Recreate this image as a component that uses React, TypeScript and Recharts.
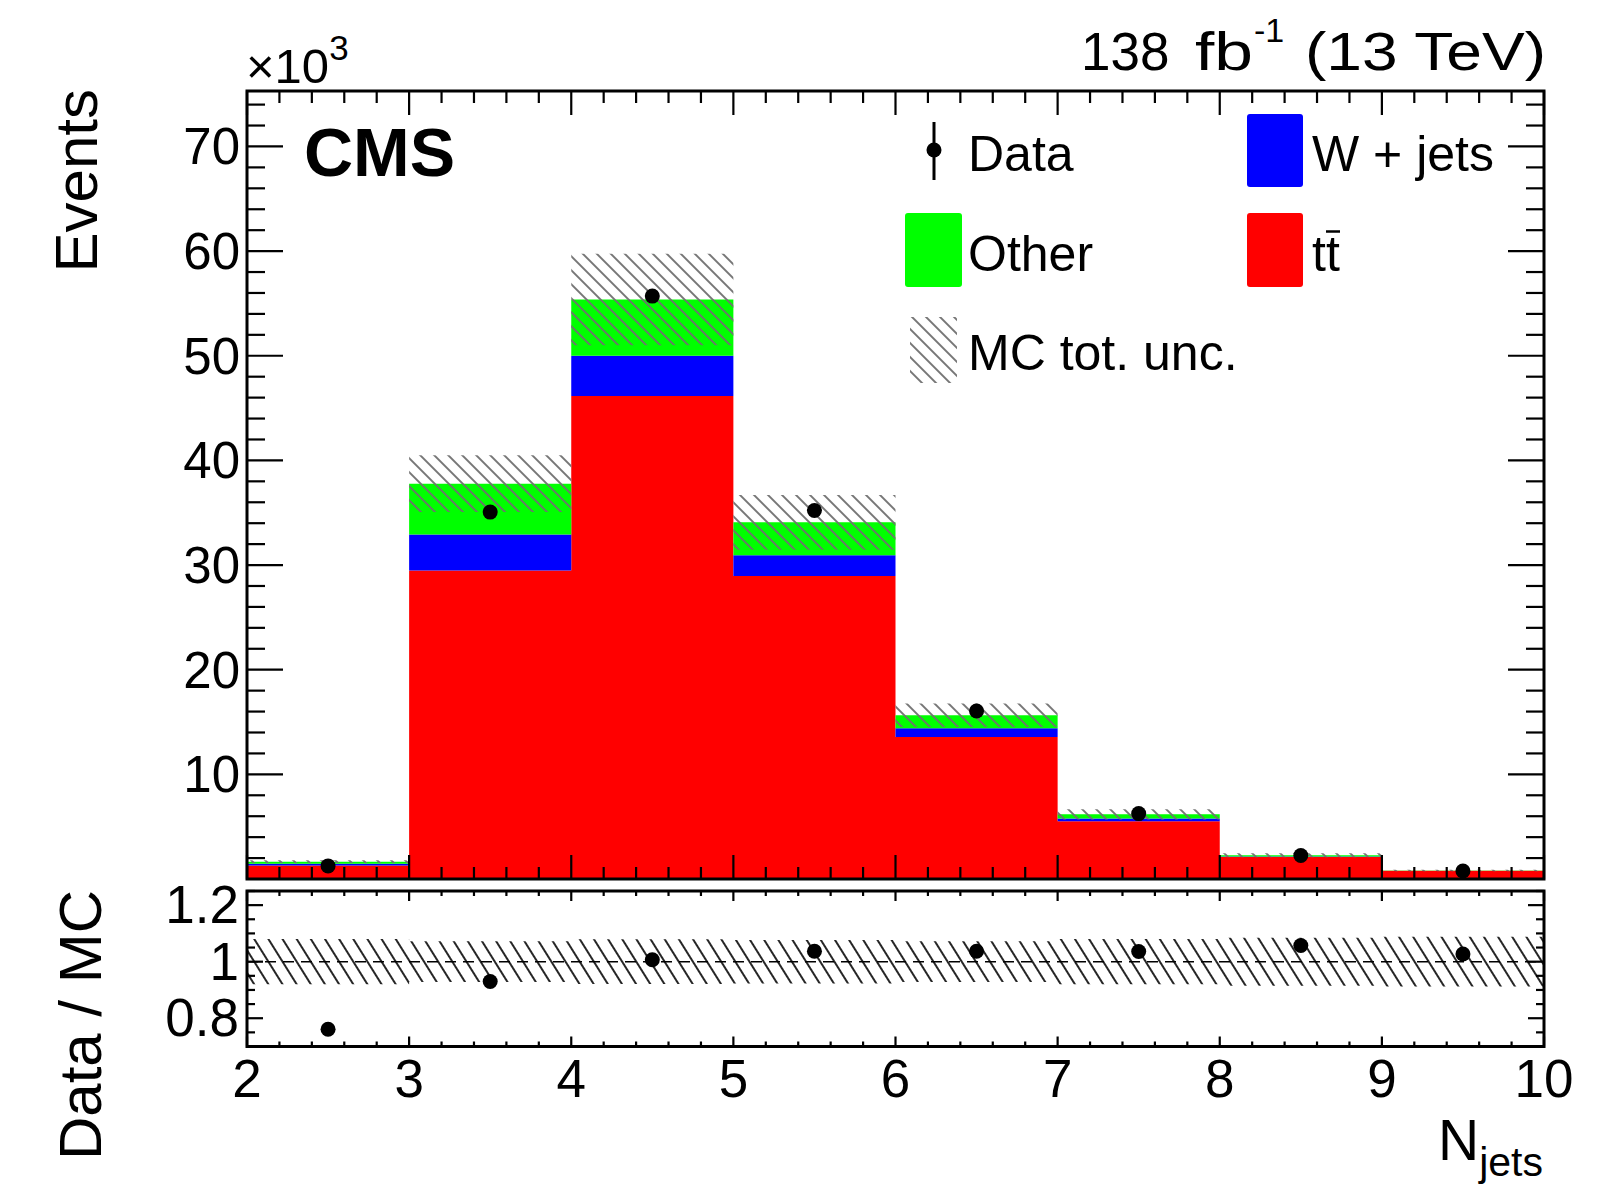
import { Area, ComposedChart, ReferenceArea, ReferenceLine, Scatter, XAxis, YAxis } from "recharts";

// N_jets histogram, values in units of 10^3 events
const BIN_EDGES = [2, 3, 4, 5, 6, 7, 8, 9, 10];
const TTBAR = [1.3, 29.49, 46.15, 28.95, 13.57, 5.51, 2.1, 0.78];
const WJETS = [0.15, 3.44, 3.85, 1.98, 0.83, 0.26, 0.06, 0.02];
const OTHER = [0.2, 4.85, 5.38, 3.15, 1.24, 0.41, 0.1, 0.02];
const DATA = [1.25, 35.06, 55.7, 35.22, 16.05, 6.25, 2.24, 0.77];
const MC_UNC = [0.08, 0.072, 0.079, 0.077, 0.072, 0.08, 0.085, 0.088]; // relative
const RATIO = [0.761, 0.93, 1.007, 1.037, 1.037, 1.036, 1.057, 1.027];

const X_LABELS = [2, 3, 4, 5, 6, 7, 8, 9, 10];
const Y_LABELS = [10, 20, 30, 40, 50, 60, 70];
const RATIO_LABELS = [0.8, 1, 1.2];

const W = 1620;
const H = 1188;
const PL = 247;
const PR = 1544;
const MAIN_TOP = 91;
const MAIN_BOT = 879;
const R_TOP = 891;
const R_BOT = 1046.5;
const Y_MAX = 75.3;
const R_MIN = 0.7;
const R_MAX = 1.25;
const FONT = "'Liberation Sans', Arial, Helvetica, sans-serif";

const last = TTBAR.length - 1;
const stepRows = BIN_EDGES.map((x, i) => {
  const b = Math.min(i, last);
  const tot = TTBAR[b] + WJETS[b] + OTHER[b];
  return {
    x,
    ttbar: TTBAR[b],
    wjets: WJETS[b],
    other: OTHER[b],
    band: [tot * (1 - MC_UNC[b]), tot * (1 + MC_UNC[b])],
    rband: [1 - MC_UNC[b], 1 + MC_UNC[b]],
  };
});
const dataPoints = DATA.map((y, i) => ({ x: BIN_EDGES[i] + 0.5, y }));
const ratioPoints = RATIO.map((y, i) => ({ x: BIN_EDGES[i] + 0.5, y }));

const xTicks: number[] = [];
for (let i = 0; i <= 40; i++) xTicks.push(Math.round((2 + i * 0.2) * 10) / 10);
const yTicks: number[] = [];
for (let v = 2; v <= 74; v += 2) yTicks.push(v);
const rTicks: number[] = [];
for (let i = 0; i <= 11; i++) rTicks.push(Math.round((R_MIN + i * 0.05) * 100) / 100);

const isInt = (v: number) => Math.abs(v - Math.round(v)) < 1e-6;

const MainXTick = ({ x, payload }: any) => {
  const len = isInt(payload.value) ? 24 : 12;
  return (
    <g>
      <line x1={x} x2={x} y1={MAIN_BOT} y2={MAIN_BOT - len} stroke="#000" strokeWidth={2.2} />
      <line x1={x} x2={x} y1={MAIN_TOP} y2={MAIN_TOP + len} stroke="#000" strokeWidth={2.2} />
    </g>
  );
};

const MainYTick = ({ y, payload }: any) => {
  const v = payload.value;
  const major = Y_LABELS.includes(v);
  const len = major ? 36 : 18;
  return (
    <g>
      <line x1={PL} x2={PL + len} y1={y} y2={y} stroke="#000" strokeWidth={2.2} />
      <line x1={PR - len} x2={PR} y1={y} y2={y} stroke="#000" strokeWidth={2.2} />
      {major && (
        <text x={240} y={y + 18} textAnchor="end" fontSize={51} fontFamily={FONT} fill="#000">
          {v}
        </text>
      )}
    </g>
  );
};

const RatioXTick = ({ x, payload }: any) => {
  const v = payload.value;
  const major = isInt(v);
  const len = major ? 10 : 5;
  return (
    <g>
      <line x1={x} x2={x} y1={R_BOT} y2={R_BOT - len} stroke="#000" strokeWidth={2.2} />
      <line x1={x} x2={x} y1={R_TOP} y2={R_TOP + len} stroke="#000" strokeWidth={2.2} />
      {major && X_LABELS.includes(v) && (
        <text x={x} y={1097} textAnchor="middle" fontSize={53} fontFamily={FONT} fill="#000">
          {v}
        </text>
      )}
    </g>
  );
};

const RatioYTick = ({ y, payload }: any) => {
  const v = payload.value;
  const label = RATIO_LABELS.find((r) => Math.abs(r - v) < 1e-6);
  const len = label !== undefined ? 16 : 8;
  return (
    <g>
      <line x1={PL} x2={PL + len} y1={y} y2={y} stroke="#000" strokeWidth={2.2} />
      <line x1={PR - len} x2={PR} y1={y} y2={y} stroke="#000" strokeWidth={2.2} />
      {label !== undefined && (
        <text x={239} y={y + 18} textAnchor="end" fontSize={53} fontFamily={FONT} fill="#000">
          {label}
        </text>
      )}
    </g>
  );
};

const dot = (p: any) => <circle cx={p.cx} cy={p.cy} r={7.5} fill="#000" />;

const Overlay = () => (
  <svg width={W} height={H} style={{ position: "absolute", left: 0, top: 0, pointerEvents: "none" }}>
    <defs>
      <pattern id="hatchMain" patternUnits="userSpaceOnUse" width={9.9} height={9.9} patternTransform="rotate(-45)">
        <line x1={4.95} y1={0} x2={4.95} y2={9.9} stroke="#707070" strokeWidth={1.9} />
      </pattern>
      <pattern id="hatchRatio" patternUnits="userSpaceOnUse" width={12} height={12} patternTransform="rotate(-32)">
        <line x1={6} y1={0} x2={6} y2={12} stroke="#000" strokeWidth={1.7} />
      </pattern>
    </defs>
    <g fontFamily={FONT} fill="#000">
      {/* lumi / energy */}
      <text x={1081} y={70} fontSize={53}>138</text>
      <text x={1195} y={70} fontSize={53} textLength={58} lengthAdjust="spacingAndGlyphs">fb</text>
      <text x={1254} y={42} fontSize={34}>-1</text>
      <text x={1305} y={70} fontSize={53} textLength={241} lengthAdjust="spacingAndGlyphs">(13 TeV)</text>
      {/* exponent */}
      <text x={246} y={83} fontSize={49}>
        ×10<tspan dy={-23} fontSize={35}>3</tspan>
      </text>
      <text x={304} y={176} fontSize={68} fontWeight="bold">CMS</text>
      {/* legend */}
      <line x1={934} x2={934} y1={122} y2={180} stroke="#000" strokeWidth={3} />
      <circle cx={934} cy={150} r={7.5} fill="#000" />
      <text x={968} y={171} fontSize={50}>Data</text>
      <rect x={1247} y={114} width={56} height={73} rx={3} fill="#0000ff" />
      <text x={1312} y={171} fontSize={50}>W + jets</text>
      <rect x={905} y={213} width={57} height={74} rx={3} fill="#00ff00" />
      <text x={968} y={271} fontSize={50}>Other</text>
      <rect x={1247} y={213} width={56} height={74} rx={3} fill="#ff0000" />
      <text x={1312} y={271} fontSize={50}>tt</text>
      <line x1={1326} x2={1340} y1={231.5} y2={231.5} stroke="#000" strokeWidth={2.5} />
      <rect x={910} y={317} width={47} height={66} fill="url(#hatchMain)" />
      <text x={968} y={370} fontSize={50}>MC tot. unc.</text>
      {/* axis titles */}
      <text x={97} y={89} fontSize={60} textAnchor="end" transform="rotate(-90 97 89)">Events</text>
      <text x={101} y={890} fontSize={60} textAnchor="end" transform="rotate(-90 101 890)">Data / MC</text>
      <text x={1543} y={1160} fontSize={57} textAnchor="end">
        N<tspan dy={16} fontSize={41}>jets</tspan>
      </text>
    </g>
  </svg>
);

export default function App() {
  return (
    <div style={{ position: "absolute", left: 0, top: 0, width: W, height: H, background: "#fff", fontFamily: FONT }}>
      <Overlay />
      <div style={{ position: "absolute", left: 0, top: 0 }}>
        <ComposedChart width={W} height={H} data={stepRows} margin={{ top: MAIN_TOP, right: W - PR, bottom: 0, left: 0 }}>
          <Area type="stepAfter" dataKey="ttbar" stackId="mc" fill="#ff0000" fillOpacity={1} stroke="none" isAnimationActive={false} />
          <Area type="stepAfter" dataKey="wjets" stackId="mc" fill="#0000ff" fillOpacity={1} stroke="none" isAnimationActive={false} />
          <Area type="stepAfter" dataKey="other" stackId="mc" fill="#00ff00" fillOpacity={1} stroke="none" isAnimationActive={false} />
          <Scatter data={dataPoints} dataKey="y" shape={dot} isAnimationActive={false} />
          <Area type="stepAfter" dataKey="band" fill="url(#hatchMain)" fillOpacity={1} stroke="none" isAnimationActive={false} />
          <XAxis type="number" dataKey="x" domain={[2, 10]} ticks={xTicks} interval={0} allowDataOverflow
            height={H - MAIN_BOT} tick={MainXTick} tickLine={false} axisLine={false} />
          <YAxis type="number" domain={[0, Y_MAX]} ticks={yTicks} interval={0} allowDataOverflow
            width={PL} tick={MainYTick} tickLine={false} axisLine={false} />
          <ReferenceArea x1={2} x2={10} y1={0} y2={Y_MAX} fill="none" fillOpacity={0} stroke="#000" strokeWidth={3} />
        </ComposedChart>
      </div>
      <div style={{ position: "absolute", left: 0, top: 0 }}>
        <ComposedChart width={W} height={H} data={stepRows} margin={{ top: R_TOP, right: W - PR, bottom: 0, left: 0 }}>
          <Area type="stepAfter" dataKey="rband" fill="url(#hatchRatio)" fillOpacity={1} stroke="none" isAnimationActive={false} />
          <ReferenceLine y={1} stroke="#000" strokeWidth={1.6} strokeDasharray="11 7" />
          <Scatter data={ratioPoints} dataKey="y" shape={dot} isAnimationActive={false} />
          <XAxis type="number" dataKey="x" domain={[2, 10]} ticks={xTicks} interval={0} allowDataOverflow
            height={H - R_BOT} tick={RatioXTick} tickLine={false} axisLine={false} />
          <YAxis type="number" domain={[R_MIN, R_MAX]} ticks={rTicks} interval={0} allowDataOverflow
            width={PL} tick={RatioYTick} tickLine={false} axisLine={false} />
          <ReferenceArea x1={2} x2={10} y1={R_MIN} y2={R_MAX} fill="none" fillOpacity={0} stroke="#000" strokeWidth={3} />
        </ComposedChart>
      </div>
    </div>
  );
}
